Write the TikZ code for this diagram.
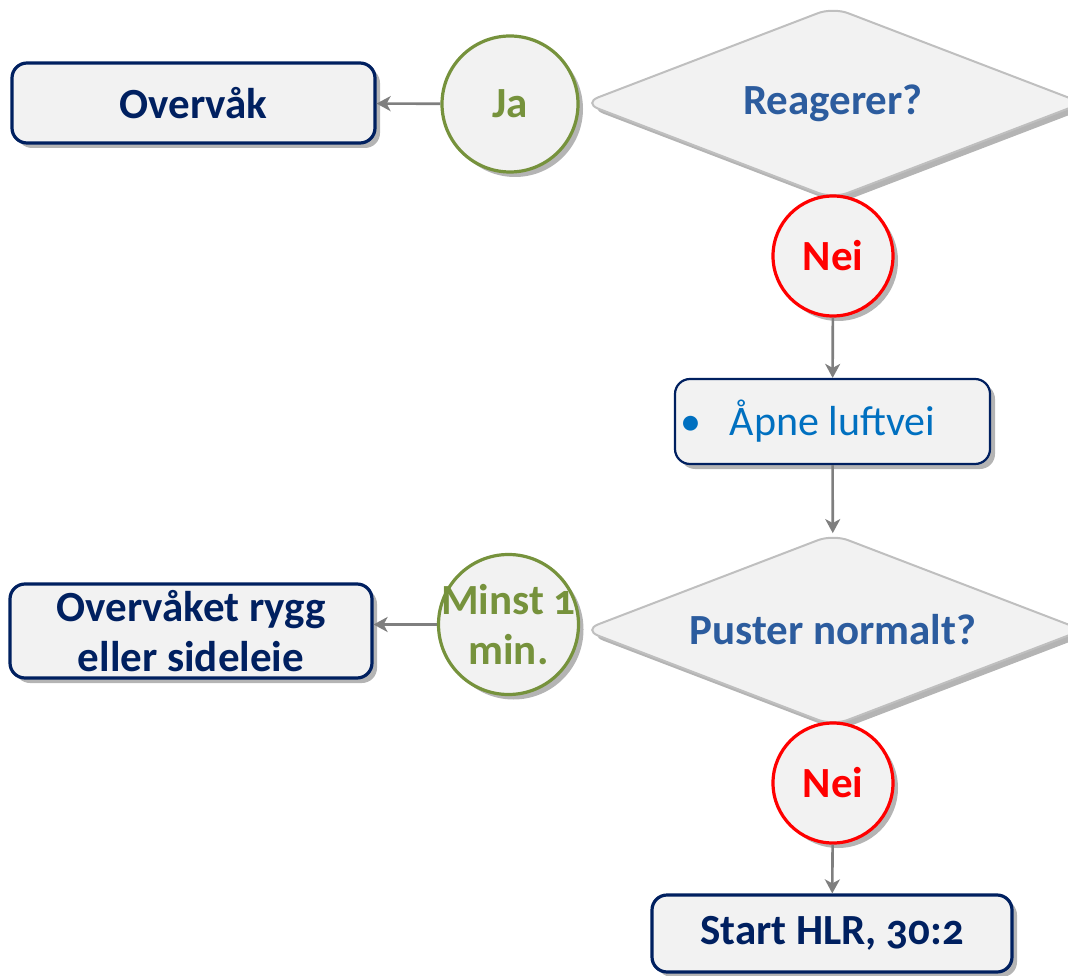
\documentclass[tikz,border=0pt]{standalone}
\usepackage{fontspec}
\setmainfont{Carlito}[Numbers=OldStyle]
\usetikzlibrary{shapes.geometric,shadows,arrows.meta}

\definecolor{navy}{HTML}{002060}
\definecolor{paper}{HTML}{F2F2F2}
\definecolor{rim}{HTML}{BFBFBF}
\definecolor{question}{HTML}{2C5C9E}
\definecolor{action}{HTML}{0070C0}
\definecolor{yes}{HTML}{76923C}
\definecolor{no}{HTML}{FF0000}
\definecolor{link}{HTML}{7F7F7F}
\definecolor{shade}{HTML}{B4B4B4}

\tikzset{
  shade/.style={drop shadow={shadow xshift=5pt, shadow yshift=-5pt, fill=shade, opacity=1}},
  card/.style={draw=navy, line width=3.2pt, fill=paper, rounded corners=15pt, shade,
    inner sep=0pt, align=center, text=navy,
    font=\fontsize{43}{50}\selectfont\bfseries},
  decision/.style={diamond, aspect=2.61, draw=rim, line width=2pt, fill=paper,
    rounded corners=16pt, shade,
    minimum width=500pt, minimum height=192pt, inner sep=0pt, text=question,
    font=\fontsize{43}{50}\selectfont\bfseries},
  answer/.style={circle, line width=3.2pt, fill=paper, shade, inner sep=0pt, align=center,
    font=\fontsize{43}{50}\selectfont\bfseries},
  yesmark/.style={answer, draw=yes, text=yes},
  nomark/.style={answer, draw=no, text=no, minimum size=120pt},
  flow/.style={draw=link, line width=2.6pt, -{Stealth[length=14pt, width=15pt, inset=4pt]}},
}

\begin{document}
\begin{tikzpicture}[x=1pt, y=-1pt]
\useasboundingbox (0,0) rectangle (1068,976);
\clip (0,0) rectangle (1068,976);

% first question: does the person respond?
\node[decision] (respond) at (833,103) {Reagerer?};
\node[yesmark, minimum size=136pt] (ja) at (510,104) {Ja};
\node[card, minimum width=363pt, minimum height=80pt] (watch) at (193.5,103) {Overvåk};
\node[nomark] (nei1) at (833,256) {Nei};

% open the airway
\node[card, line width=2.2pt, minimum width=315pt, minimum height=85pt, text=action,
      font=\fontsize{42}{48}\selectfont] (airway) at (832.5,421.5)
      {\llap{\textbullet\hspace{28pt}}Åpne luftvei};

% second question: normal breathing?
\node[decision] (breath) at (833,630) {Puster normalt?};
\node[yesmark, minimum size=140pt] (minst) at (508.5,624.5)
      {\makebox[0pt]{Minst 1}\\\makebox[0pt]{min.}};
\node[card, minimum width=362pt, minimum height=94pt] (side) at (191,631)
      {Overvåket rygg\\eller sideleie};
\node[nomark] (nei2) at (833,783) {Nei};

% start CPR
\node[card, minimum width=360pt, minimum height=77pt] (cpr) at (832,933.5) {Start HLR, 30:2};

% connectors
\draw[flow] (ja) -- (watch);
\draw[flow] (nei1) -- (airway);
\draw[flow] (airway) -- (breath);
\draw[flow] (minst.west) -- (minst.west -| side.east);
\draw[flow] (nei2) -- (cpr);
\end{tikzpicture}
\end{document}
